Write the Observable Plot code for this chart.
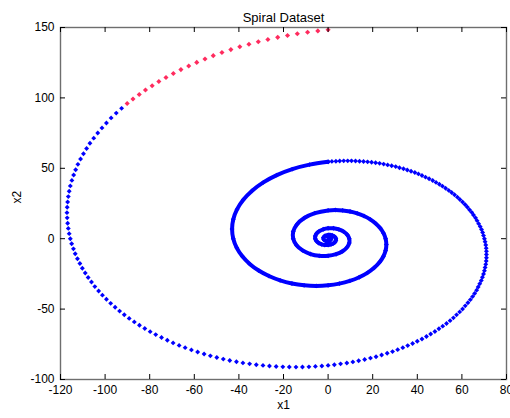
<!DOCTYPE html>
<html>
<head>
<meta charset="utf-8">
<script src="https://cdn.jsdelivr.net/npm/d3@7"></script>
<script src="https://cdn.jsdelivr.net/npm/@observablehq/plot@0.6"></script>
<style>
  html, body { margin: 0; padding: 0; background: #fff; }
  #chart svg { display: block; }
</style>
</head>
<body>
<div id="chart"></div>
<script>
// ---- Data ----
const titleText = "Spiral Dataset";
const xLabel = "x1";
const yLabel = "x2";
const xTicks = [-120, -100, -80, -60, -40, -20, 0, 20, 40, 60, 80];
const yTicks = [-100, -50, 0, 50, 100, 150];

// Dense inner turns (markers overlap into a continuous band), sampled along the curve
const innerX = [
  0, 0.65, 1.16, 1.28, 0.88, 0, -1.07, -1.92, -2.12, -1.45,
  0, 0.88, 1.77, 2.55, 3.16, 3.49, 3.49, 3.12, 2.38, 1.32, 0, -1.46, -2.91, -4.21, -5.21, -5.76, -5.75, -5.15, -3.93, -2.17,
  0, 2.40, 4.80, 6.95, 8.58, 9.49, 9.49, 8.48, 6.48, 3.58, 0, -3.96, -7.91, -11.45, -14.15, -15.64, -15.64, -13.99, -10.68, -5.90,
  0, 3.22, 6.52, 9.83, 13.05, 16.09, 18.88, 21.32, 23.33, 24.84, 25.79, 26.12, 25.79, 24.77, 23.06, 20.66, 17.61, 13.95, 9.73, 5.05,
  0, -5.31, -10.76, -16.21, -21.51, -26.53, -31.13, -35.15, -38.47, -40.96, -42.52, -43.06, -42.51, -40.84, -38.02, -34.07, -29.04, -23.00, -16.05, -8.33,
  0
];
const innerY = [
  1, 0.89, 0.38, -0.42, -1.21, -1.65, -1.47, -0.62, 0.69, 1.99,
  2.72, 2.72, 2.43, 1.86, 1.03, 0, -1.13, -2.27, -3.28, -4.05, -4.48, -4.48, -4.01, -3.06, -1.69, 0, 1.87, 3.74, 5.41, 6.69,
  7.39, 7.39, 6.61, 5.05, 2.79, 0, -3.08, -6.16, -8.92, -11.02, -12.18, -12.18, -10.89, -8.32, -4.60, 0, 5.08, 10.16, 14.70, 18.17,
  20.09, 20.34, 20.08, 19.29, 17.96, 16.09, 13.72, 10.86, 7.58, 3.93, 0, -4.14, -8.38, -12.62, -16.75, -20.66, -24.24, -27.37, -29.96, -31.90,
  -33.12, -33.54, -33.11, -31.80, -29.61, -26.53, -22.62, -17.91, -12.50, -6.49, 0, 6.82, 13.81, 20.81, 27.62, 34.07, 39.97, 45.13, 49.39, 52.60,
  54.60
];

// Outer turn: individually visible blue markers
const blueX = [
  0, 1.7, 3.5, 5.2, 7.0, 8.8, 10.5, 12.3, 14.1, 15.9, 17.7, 19.5, 21.3, 23.1, 24.9, 26.7, 28.5, 30.3, 32.0, 33.8,
  35.5, 37.2, 38.9, 40.5, 42.1, 43.7, 45.3, 46.9, 48.4, 49.9, 51.3, 52.7, 54.1, 55.4, 56.7, 58.0, 59.1, 60.3, 61.4, 62.4,
  63.4, 64.4, 65.2, 66.1, 66.8, 67.5, 68.2, 68.8, 69.3, 69.7,
  70.1, 70.4, 70.7, 70.9, 71.0, 71.0, 71.0, 70.9, 70.7, 70.4, 70.1, 69.7, 69.2, 68.7, 68.0, 67.3, 66.6, 65.7, 64.8, 63.8,
  62.7, 61.5, 60.3, 59.0, 57.6, 56.2, 54.7, 53.1, 51.4, 49.7, 47.9, 46.0, 44.1, 42.1, 40.0, 37.9, 35.7, 33.5, 31.2, 28.9,
  26.5, 24.0, 21.5, 19.0, 16.4, 13.7, 11.1, 8.4, 5.6, 2.8,
  0, -2.8, -5.7, -8.6, -11.5, -14.4, -17.4, -20.3, -23.3, -26.3, -29.2, -32.2, -35.2, -38.2, -41.1, -44.1, -47.0, -49.9, -52.8, -55.6,
  -58.5, -61.3, -64.1, -66.8, -69.5, -72.1, -74.7, -77.3, -79.8, -82.2, -84.6, -86.9, -89.2, -91.4, -93.5, -95.5, -97.5, -99.4, -101.2, -102.9,
  -104.6, -106.1, -107.6, -108.9, -110.2, -111.3, -112.4, -113.4, -114.2, -115.0,
  -115.6, -116.1, -116.5, -116.8, -117.0, -117.1, -117.0, -116.8, -116.5, -116.1, -115.6, -114.9, -114.1, -113.2, -112.2, -111.0, -109.7, -108.3, -106.8, -105.1,
  -103.3, -101.4, -99.4, -97.3, -95.0, -92.6
];
const blueY = [
  54.6, 54.9, 55.0, 55.2, 55.3, 55.3, 55.3, 55.2, 55.0, 54.8, 54.6, 54.3, 53.9, 53.5, 53.0, 52.4, 51.8, 51.2, 50.4, 49.7,
  48.8, 47.9, 47.0, 46.0, 44.9, 43.7, 42.6, 41.3, 40.0, 38.7, 37.3, 35.8, 34.3, 32.8, 31.2, 29.5, 27.8, 26.1, 24.3, 22.5,
  20.6, 18.7, 16.8, 14.8, 12.8, 10.7, 8.6, 6.5, 4.4, 2.2,
  0, -2.2, -4.5, -6.7, -9.0, -11.2, -13.5, -15.8, -18.2, -20.5, -22.8, -25.1, -27.4, -29.7, -32.0, -34.3, -36.6, -38.9, -41.1, -43.3,
  -45.5, -47.7, -49.9, -52.0, -54.1, -56.2, -58.2, -60.2, -62.1, -64.0, -65.9, -67.7, -69.5, -71.2, -72.8, -74.4, -75.9, -77.4, -78.8, -80.2,
  -81.4, -82.6, -83.8, -84.8, -85.8, -86.7, -87.5, -88.3, -88.9, -89.5,
  -90.0, -90.4, -90.7, -91.0, -91.1, -91.2, -91.1, -91.0, -90.8, -90.4, -90.0, -89.5, -88.9, -88.2, -87.4, -86.5, -85.5, -84.4, -83.2, -81.9,
  -80.5, -79.0, -77.4, -75.8, -74.0, -72.1, -70.2, -68.1, -66.0, -63.8, -61.5, -59.1, -56.6, -54.0, -51.4, -48.7, -45.9, -43.0, -40.1, -37.1,
  -34.0, -30.8, -27.6, -24.4, -21.0, -17.6, -14.2, -10.7, -7.2, -3.6,
  0, 3.6, 7.3, 11.0, 14.8, 18.5, 22.3, 26.1, 29.9, 33.7, 37.5, 41.4, 45.2, 49.0, 52.8, 56.6, 60.3, 64.1, 67.8, 71.4,
  75.1, 78.7, 82.2, 85.8, 89.2, 92.6
];

// Last stretch of the spiral, drawn in red
const redX = [
  -90.1, -87.5, -84.7, -81.9, -78.9, -75.9, -72.7, -69.4, -66.0, -62.5, -58.9, -55.2, -51.5,
  -47.6, -43.6, -39.6, -35.5, -31.3, -27.0, -22.6, -18.2, -13.8, -9.2, -4.6, 0
];
const redY = [
  96.0, 99.2, 102.4, 105.6, 108.6, 111.6, 114.5, 117.3, 120.1, 122.7, 125.2, 127.6, 130.0,
  132.2, 134.3, 136.3, 138.1, 139.9, 141.5, 143.0, 144.3, 145.6, 146.6, 147.6, 148.4
];

// ---- Tables for Plot ----
const inner = innerX.map((x, i) => ({x, y: innerY[i]}));
const blue = blueX.map((x, i) => ({x, y: blueY[i]}));
const red = redX.map((x, i) => ({x, y: redY[i]}));

const W = 510, H = 418;
const mt = 27, mb = 39, ml = 60, mr = 4;
const fw = W - ml - mr, fh = H - mt - mb;
const tickLen = 5;
const fmt = d => String(d);
const blueColor = "#0000ff";
const redColor = "#ff2b5e";

const chart = Plot.plot({
  width: W,
  height: H,
  marginTop: mt,
  marginBottom: mb,
  marginLeft: ml,
  marginRight: mr,
  style: {
    fontFamily: "'Liberation Sans', Arial, Helvetica, sans-serif",
    fontSize: "12px",
    color: "#000",
    background: "#fff",
    overflow: "visible"
  },
  x: {domain: [-120, 80]},
  y: {domain: [-100, 150]},
  marks: [
    // spiral: dense inner band
    Plot.line(inner, {x: "x", y: "y", stroke: blueColor, strokeWidth: 4, curve: "catmull-rom", strokeLinejoin: "round", strokeLinecap: "round"}),
    Plot.dot(inner, {x: "x", y: "y", symbol: "diamond2", r: 2.2, fill: blueColor}),
    // outer markers
    Plot.dot(blue, {x: "x", y: "y", symbol: "diamond2", r: 2.2, fill: blueColor}),
    Plot.dot(red, {x: "x", y: "y", symbol: "diamond2", r: 2.3, fill: redColor}),
    // box
    Plot.frame({stroke: "#6e6e6e", strokeWidth: 1.4}),
    // inward ticks on all four sides
    Plot.ruleX(xTicks, {x: d => d, insetTop: fh - tickLen, stroke: "#000", strokeWidth: 1}),
    Plot.ruleX(xTicks, {x: d => d, insetBottom: fh - tickLen, stroke: "#000", strokeWidth: 1}),
    Plot.ruleY(yTicks, {y: d => d, insetRight: fw - tickLen, stroke: "#000", strokeWidth: 1}),
    Plot.ruleY(yTicks, {y: d => d, insetLeft: fw - tickLen, stroke: "#000", strokeWidth: 1}),
    // tick labels
    Plot.axisX({ticks: xTicks, tickSize: 0, tickPadding: 6, tickFormat: fmt, label: null}),
    Plot.axisY({ticks: yTicks, tickSize: 0, tickPadding: 6, tickFormat: fmt, label: null}),
    // title and axis labels
    Plot.text([titleText], {text: d => d, frameAnchor: "top", dy: -15, fontSize: 13, fill: "#000"}),
    Plot.text([xLabel], {text: d => d, frameAnchor: "bottom", dy: 29, fontSize: 12, fill: "#000"}),
    Plot.text([yLabel], {text: d => d, frameAnchor: "left", dx: -43, rotate: -90, fontSize: 12, fill: "#000"})
  ]
});

document.getElementById("chart").appendChild(chart);
</script>
</body>
</html>
